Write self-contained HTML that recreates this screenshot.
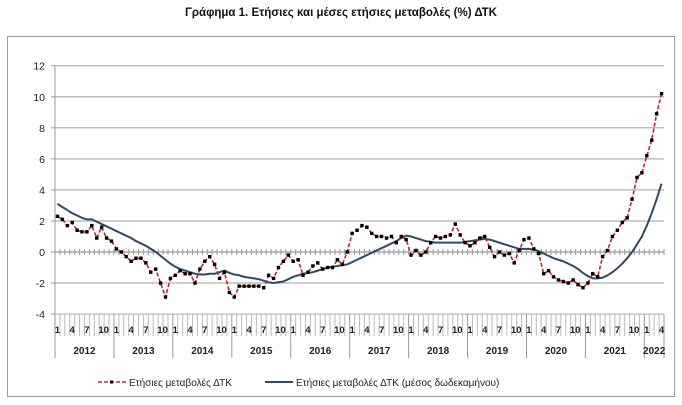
<!DOCTYPE html>
<html><head><meta charset="utf-8"><style>
body{margin:0;background:#fff;width:682px;height:400px;overflow:hidden}
svg text{font-family:"Liberation Sans",sans-serif}
</style></head><body>
<svg id="c" width="682" height="400">
<text x="341" y="16" text-anchor="middle" font-size="11.5" font-weight="bold" fill="#111">Γράφημα 1. Ετήσιες και μέσες ετήσιες μεταβολές (%) ΔΤΚ</text>
<rect x="7.5" y="36.5" width="667" height="360" fill="none" stroke="#999"/>
<g id="grid"></g><g id="xaxis"></g><g id="series"></g>
<g>
<g>
<line x1="98" y1="382" x2="126" y2="382" stroke="#c0282d" stroke-width="1.6" stroke-dasharray="4,2"/>
<rect x="110" y="380.5" width="3" height="3" fill="#000"/>
<text x="129" y="386" font-size="10" fill="#222">Ετήσιες μεταβολές ΔΤΚ</text></g>
<g>
<line x1="265" y1="382" x2="293" y2="382" stroke="#2f4a66" stroke-width="2"/>
<text x="296" y="386" font-size="10" fill="#222">Ετήσιες μεταβολές ΔΤΚ (μέσος δωδεκαμήνου)</text></g>
</g>
</svg>
<script>
const years=["2012","2013","2014","2015","2016","2017","2018","2019","2020","2021","2022"];
const yTicks=[12,10,8,6,4,2,0,-2,-4];
const annual=[2.3,2.1,1.7,1.9,1.4,1.3,1.3,1.7,0.9,1.6,0.9,0.7,
0.2,0.0,-0.3,-0.6,-0.4,-0.4,-0.7,-1.3,-1.1,-2.0,-2.9,-1.7,
-1.5,-1.2,-1.4,-1.4,-2.0,-1.1,-0.6,-0.3,-0.8,-1.7,-1.3,-2.6,
-2.9,-2.2,-2.2,-2.2,-2.2,-2.2,-2.3,-1.5,-1.7,-1.0,-0.6,-0.2,
-0.6,-0.5,-1.5,-1.3,-0.9,-0.7,-1.1,-1.0,-1.0,-0.5,-0.8,0.0,
1.2,1.4,1.7,1.6,1.2,1.0,1.0,0.9,1.0,0.6,1.0,0.8,
-0.2,0.1,-0.2,0.0,0.6,1.0,0.9,1.0,1.1,1.8,1.1,0.6,
0.4,0.6,0.9,1.0,0.3,-0.3,0.0,-0.2,-0.1,-0.7,0.1,0.8,
0.9,0.2,-0.1,-1.4,-1.2,-1.6,-1.8,-1.9,-2.0,-1.8,-2.1,-2.3,
-2.0,-1.4,-1.6,-0.3,0.1,1.0,1.4,1.9,2.2,3.4,4.8,5.1,
6.2,7.2,8.9,10.2];
const average=[3.1,2.9,2.7,2.5,2.35,2.2,2.1,2.1,1.95,1.8,1.65,1.5,
1.35,1.2,1.05,0.9,0.7,0.55,0.4,0.2,0.0,-0.25,-0.5,-0.75,
-0.95,-1.1,-1.2,-1.3,-1.4,-1.45,-1.45,-1.4,-1.4,-1.3,-1.2,-1.35,
-1.45,-1.5,-1.6,-1.65,-1.7,-1.75,-1.85,-1.95,-2.0,-1.95,-1.9,-1.75,
-1.6,-1.5,-1.4,-1.35,-1.3,-1.2,-1.1,-1.0,-0.95,-0.9,-0.85,-0.8,
-0.65,-0.5,-0.35,-0.2,-0.05,0.1,0.25,0.4,0.55,0.7,0.9,1.05,
1.0,0.9,0.8,0.7,0.65,0.6,0.6,0.6,0.6,0.6,0.6,0.65,
0.7,0.75,0.8,0.85,0.8,0.7,0.6,0.5,0.4,0.3,0.2,0.2,
0.2,0.15,0.05,-0.1,-0.25,-0.4,-0.5,-0.6,-0.75,-0.9,-1.1,-1.35,
-1.55,-1.7,-1.7,-1.65,-1.5,-1.3,-1.05,-0.75,-0.4,0.0,0.5,1.0,
1.7,2.5,3.4,4.4];
const monthLabels=["1","4","7","10"];
const NS="http://www.w3.org/2000/svg";
const X0=55,X1=664,Y12=65.7,Y0=252,N=annual.length;
const slot=(X1-X0)/N;
const xs=i=>X0+slot*(i+0.5);
const ys=v=>Y0-(v)*(Y0-Y12)/12;
function mk(t,a,p){const e=document.createElementNS(NS,t);for(const k in a)e.setAttribute(k,a[k]);p.appendChild(e);return e;}
const grid=document.getElementById('grid');
yTicks.forEach(v=>{
 const y=ys(v);
 if(v>-4){const l=mk('line',{x1:X0,x2:X1,y1:y,y2:y,stroke:v===0?'#aaa':'#bdbdbd','stroke-width':1.5},grid);
 
 }
 const t=mk('text',{x:45,y:y+4,'text-anchor':'end','font-size':10.5,fill:'#222'},grid);
 t.textContent=v;
 
 
 mk('line',{x1:X0-4,x2:X0,y1:y,y2:y,stroke:'#999'},grid);
});
const ax=mk('line',{x1:X0,x2:X0,y1:Y12,y2:ys(-4),stroke:'#999'},grid);


const xa=document.getElementById('xaxis');
const yb=ys(-4);
mk('line',{x1:X0,x2:X1,y1:yb,y2:yb,stroke:'#aaa'},xa);
for(let i=0;i<=N;i++){
 const x=X0+slot*i;
 mk('line',{x1:x,x2:x,y1:Y0-3,y2:Y0+3,stroke:'#999'},xa);
 const yr=i%12===0||i===N;
 mk('line',{x1:x,x2:x,y1:yb,y2:yr?yb+44:yb+22,stroke:yr?'#999':'#bbb'},xa);
}
for(let i=0;i<N;i++){
 const m=i%12;
 if(m%3===0){const t=mk('text',{x:xs(i)+ (m===9?2:0),y:yb+19,'text-anchor':'middle','font-size':9.5,'font-weight':'bold',fill:'#222'},xa);
 t.textContent=monthLabels[m/3];
 
 }
}
years.forEach((yr,k)=>{
 const a=k*12,b=Math.min(N,a+12);
 const t=mk('text',{x:X0+slot*(a+b)/2,y:yb+40,'text-anchor':'middle','font-size':10,'font-weight':'bold',fill:'#222'},xa);
 t.textContent=yr;
 
 
});
const s=document.getElementById('series');
const avg=mk('polyline',{points:average.map((v,i)=>xs(i)+','+ys(v)).join(' '),fill:'none',stroke:'#2f4a66','stroke-width':2},s);


const an=mk('polyline',{points:annual.map((v,i)=>xs(i)+','+ys(v)).join(' '),fill:'none',stroke:'#c0282d','stroke-width':1.6,'stroke-dasharray':'4,2'},s);


annual.forEach((v,i)=>{
 const r=mk('rect',{x:xs(i)-1.7,y:ys(v)-1.7,width:3.4,height:3.4,fill:'#000'},s);
 
 
});
</script>
</body></html>
